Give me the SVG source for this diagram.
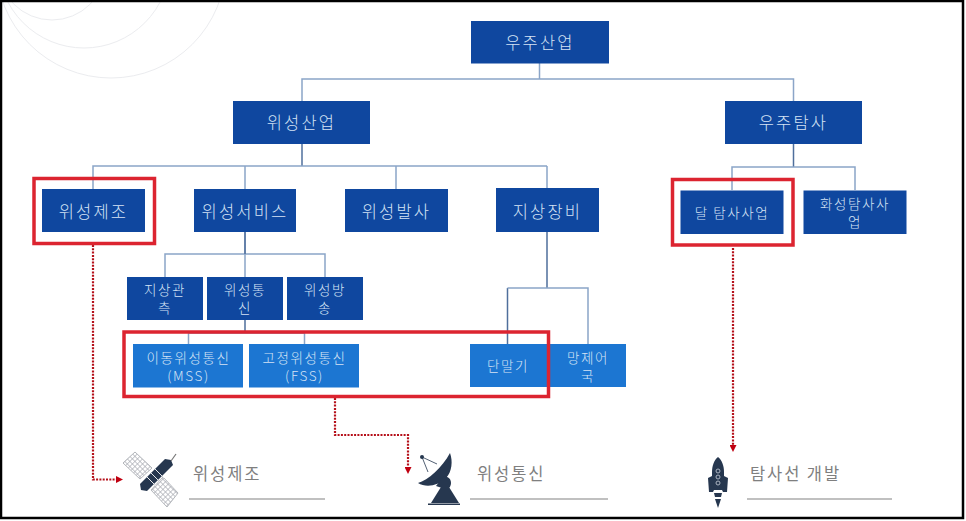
<svg xmlns="http://www.w3.org/2000/svg" width="966" height="521" viewBox="0 0 966 521">
<style>
text{font-family:"Noto Sans CJK KR","Noto Sans",sans-serif;text-anchor:middle}
.d{fill:#0f479f}
.l{fill:#1c76d2}
.t{fill:#d5e3f5;font-size:16.5px;letter-spacing:2.200px;font-weight:300}
.s{fill:#d5e3f5;font-size:13.5px;letter-spacing:1.600px;font-weight:300}
.g{fill:#7f7f7f;font-size:16.5px;letter-spacing:1.900px;text-anchor:start}
.c{fill:none;stroke:#8ba5c8;stroke-width:1.5}
.k{fill:none;stroke:#4f6f9c;stroke-width:1.5}
.r{fill:none;stroke:#dc2430;stroke-width:3.5}
.o{fill:none;stroke:#b5101a;stroke-width:2.200;stroke-dasharray:2 1.300}
.u{stroke:#ababab;stroke-width:1.5}
.a{fill:none;stroke:#ebecef;stroke-width:1}
.i{fill:#26374f}
</style>
<defs>
<marker id="arr" markerWidth="7" markerHeight="7" refX="1" refY="3.5" orient="auto" markerUnits="userSpaceOnUse"><path d="M0,0L7,3.5L0,7Z" fill="#c00010"/></marker>
<pattern id="grid" width="3.6" height="3.6" patternUnits="userSpaceOnUse" patternTransform="rotate(45)"><rect width="3.6" height="3.6" fill="#fff"/><path d="M0,0H3.600M0,0V3.600" stroke="#a9acb3" stroke-width="1.300"/></pattern>
</defs>
<rect width="966" height="521" fill="#fff"/>
<g id="background">
<circle class="a" cx="111" cy="-37" r="115"/>
<circle class="a" cx="84" cy="-38" r="86"/>
<circle class="a" cx="52" cy="-34" r="54"/>
</g>
<g id="connectors">
<path class="c" d="M539.5,63V79M302,101V79H793.5V101"/>
<path class="k" d="M302,144V166"/>
<path class="c" d="M93,189V166H547M245,166V189M396,166V189M547,166V188"/>
<path class="k" d="M793.5,144V167"/>
<path class="c" d="M732,190V167H855V190"/>
<path class="c" d="M245,232V277M165,277V254H325V277"/>
<path class="k" d="M245,232V254M245,320V333"/>
<path class="c" d="M188.5,344V333H304.5V344"/>
<path class="k" d="M547,232V288M507.500,344V288"/>
<path class="c" d="M507.500,288H588V344"/>
<path class="o" d="M93,245V479.500H117" marker-end="url(#arr)"/>
<path class="o" d="M335,398V435H408V468" marker-end="url(#arr)"/>
<path class="o" d="M733,248V446" marker-end="url(#arr)"/>
</g>
<g id="n-root"><rect class="d" x="471" y="21" width="138" height="42.500"/><text class="t" x="540" y="48.500">우주산업</text></g>
<g id="n-sat"><rect class="d" x="233" y="101" width="137" height="43"/><text class="t" x="301.500" y="128.500">위성산업</text></g>
<g id="n-exp"><rect class="d" x="725" y="101" width="137" height="43"/><text class="t" x="793.500" y="129">우주탐사</text></g>
<g id="n-mfg"><rect class="d" x="42" y="189" width="103" height="43"/><text class="t" x="93.500" y="217.500">위성제조</text></g>
<g id="n-svc"><rect class="d" x="194" y="189" width="102" height="43"/><text class="t" x="245" y="217.500">위성서비스</text></g>
<g id="n-launch"><rect class="d" x="345" y="189" width="103" height="43"/><text class="t" x="396.500" y="217.500">위성발사</text></g>
<g id="n-ground"><rect class="d" x="496" y="188" width="103" height="44"/><text class="t" x="547.500" y="217.500">지상장비</text></g>
<g id="n-moon"><rect class="d" x="680.500" y="190.500" width="103" height="43.500"/><text class="s" x="732" y="218">달 탐사사업</text></g>
<g id="n-mars"><rect class="d" x="803.500" y="190.500" width="103" height="43.500"/><text class="s" y="209"><tspan x="855">화성탐사사</tspan><tspan x="855" dy="18">업</tspan></text></g>
<g id="n-obs"><rect class="d" x="127" y="277" width="76" height="43"/><text class="s" y="295"><tspan x="165">지상관</tspan><tspan x="165" dy="18">측</tspan></text></g>
<g id="n-com"><rect class="d" x="207" y="277" width="76" height="43"/><text class="s" y="295"><tspan x="245">위성통</tspan><tspan x="245" dy="18">신</tspan></text></g>
<g id="n-bro"><rect class="d" x="287" y="277" width="76" height="43"/><text class="s" y="295"><tspan x="325">위성방</tspan><tspan x="325" dy="18">송</tspan></text></g>
<g id="n-mss"><rect class="l" x="133" y="344" width="110" height="43.500"/><text class="s" y="363"><tspan x="188.500">이동위성통신</tspan><tspan x="188.500" dy="18">(MSS)</tspan></text></g>
<g id="n-fss"><rect class="l" x="249" y="344" width="110" height="43.500"/><text class="s" y="363"><tspan x="304.500">고정위성통신</tspan><tspan x="304.500" dy="18">(FSS)</tspan></text></g>
<g id="n-ctrl"><rect class="l" x="546" y="344" width="80" height="43"/><text class="s" y="363"><tspan x="588">망제어</tspan><tspan x="588" dy="18">국</tspan></text></g>
<g id="n-term"><rect class="l" x="470" y="344" width="76" height="43"/><text class="s" x="508" y="371">단말기</text></g>
<g id="highlights">
<rect class="r" x="34" y="178.500" width="120.500" height="65"/>
<rect class="r" x="672.500" y="179.500" width="120.500" height="65.500"/>
<rect class="r" x="124" y="332" width="424.500" height="64.500"/>
</g>
<g id="i-sat">
<polygon points="135,452 152,468 140,479 123,463" fill="url(#grid)" stroke="#b4b7bc"/>
<polygon points="163,477 178,493 167,507 151,490" fill="url(#grid)" stroke="#b4b7bc"/>
<path class="i" d="M140,484L165,459L171,460L173,465L147,491L141,490Z"/>
<path d="M147,477L156,486M151,473L160,482M155,469L164,478" stroke="#e6e8ec" stroke-width="1"/>
<path d="M171,461L176,454" stroke="#777" stroke-width="1.200"/>
<text class="g" x="193" y="480">위성제조</text>
<line class="u" x1="189" y1="499" x2="325" y2="499"/>
</g>
<g id="i-dish">
<path class="i" d="M418,483C428,480 442,468 450,453C453,461 452,472 446,478C438,486 426,488 418,483Z"/>
<path class="i" d="M443,477C451,475 453,484 449,488L445,489L436,486Z"/>
<path class="i" d="M441,487L449,487L459,503H431Z"/>
<rect class="i" x="428" y="503.500" width="32" height="1.500"/>
<circle class="i" cx="422" cy="457" r="2"/>
<path d="M422,457L437,464M422,457L428,472" stroke="#26374f" stroke-width="0.800" fill="none"/>
<text class="g" x="477" y="480">위성통신</text>
<line class="u" x1="470" y1="499" x2="608" y2="499"/>
</g>
<g id="i-rocket">
<path class="i" d="M718,457C722,460 724,466 724,472V476L728,478L727,492H723L722,490H714L713,492H709L708,478L712,476V472C712,466 714,460 718,457Z"/>
<path class="i" d="M714,493H722L721,497H715ZM715,499H721L718,508Z"/>
<circle cx="718" cy="471" r="2" fill="none" stroke="#aab3c0"/>
<circle cx="718" cy="477" r="2" fill="none" stroke="#aab3c0"/>
<circle cx="718" cy="483" r="2" fill="none" stroke="#aab3c0"/>
<text class="g" x="750" y="480">탐사선 개발</text>
<line class="u" x1="747" y1="499" x2="892" y2="499"/>
</g>
<g id="frame"><rect x="1" y="1" width="962" height="517" fill="none" stroke="#000" stroke-width="2.500"/></g>
</svg>
